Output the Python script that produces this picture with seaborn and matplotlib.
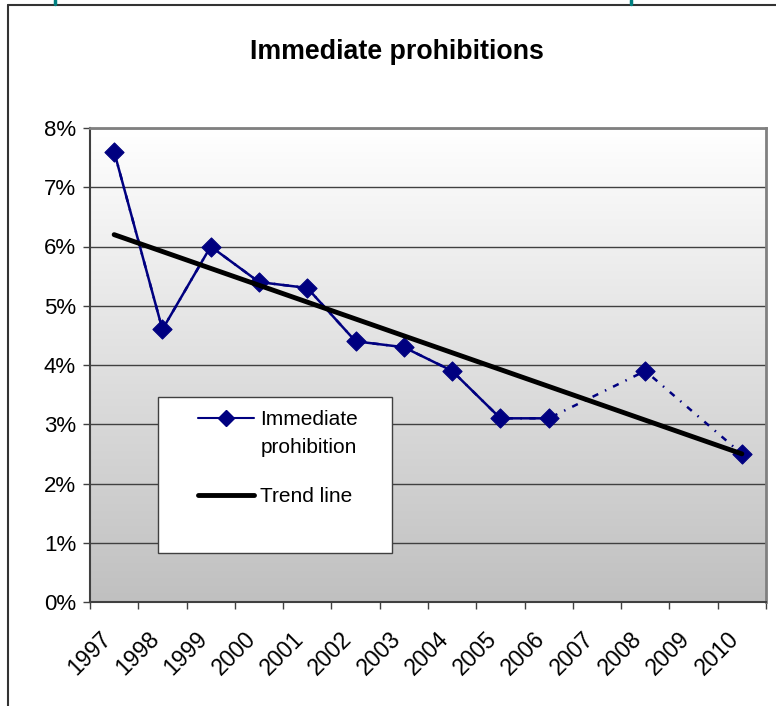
import numpy as np
import pandas as pd
import matplotlib
matplotlib.use("Agg")
import matplotlib.pyplot as plt
import matplotlib.transforms as mtransforms
from matplotlib.colors import LinearSegmentedColormap
from matplotlib.lines import Line2D
from matplotlib.patches import Rectangle
import seaborn as sns

# data (percent)
years = list(range(1997, 2011))
prohibitions = [7.6, 4.6, 6.0, 5.4, 5.3, 4.4, 4.3, 3.9, 3.1, 3.1, np.nan, 3.9, np.nan, 2.5]
trend_years = [1997, 2010]
trend_values = [6.2, 2.5]
y_ticks = [0, 1, 2, 3, 4, 5, 6, 7, 8]

NAVY = '#000080'

sns.set_theme(style="white")
plt.rcParams['font.family'] = ['Liberation Sans', 'DejaVu Sans']
plt.rcParams['text.color'] = 'black'

df = pd.DataFrame({'year': years, 'value': prohibitions})
df['pos'] = df['year'] - years[0] + 0.5
trend = pd.DataFrame({'pos': [y - years[0] + 0.5 for y in trend_years],
                      'value': trend_values})

W, H = 776, 706
fig = plt.figure(figsize=(W / 100, H / 100), dpi=100)
ax = fig.add_axes([90 / W, 1 - 602 / H, 676 / W, 474 / H])

# grey-to-white gradient in the plot area
cmap = LinearSegmentedColormap.from_list('bg', ['#c0c0c0', '#ffffff'])
ax.imshow(np.linspace(0, 1, 256).reshape(-1, 1), origin='lower', aspect='auto',
          extent=(0, len(years), 0, y_ticks[-1]), cmap=cmap, zorder=0)

# dotted line bridges the missing years, solid line where data is continuous
sns.lineplot(data=df.dropna(), x='pos', y='value', color=NAVY, lw=1.8,
             linestyle=(0, (2.5, 3, 0.6, 3)), ax=ax, zorder=3)
ax.plot(df['pos'], df['value'], color=NAVY, lw=1.8, zorder=3)
sns.scatterplot(data=df.dropna(), x='pos', y='value', marker='D', s=95,
                color=NAVY, edgecolor=NAVY, ax=ax, zorder=4)
sns.lineplot(data=trend, x='pos', y='value', color='black', lw=3.5, ax=ax, zorder=4)

ax.set_xlim(0, len(years))
ax.set_ylim(0, y_ticks[-1])
ax.set_yticks(y_ticks)
ax.set_yticklabels([f"{v}%" for v in y_ticks])
ax.set_xticks(range(len(years) + 1))
ax.set_xticklabels([str(y) for y in years] + [''])
ax.set_xlabel('')
ax.set_ylabel('')

ax.yaxis.grid(True, color='#404040', lw=1)
ax.xaxis.grid(False)
ax.set_axisbelow(True)

ax.tick_params(axis='y', which='major', left=True, length=5, width=1,
               color='#404040', labelsize=16, pad=5, labelcolor='black')
ax.tick_params(axis='x', which='major', bottom=True, length=5, width=1,
               color='#404040', labelsize=16.5, pad=13, labelcolor='black')
offset = mtransforms.ScaledTranslation(9 / 100, 0, fig.dpi_scale_trans)
for lab in ax.get_xticklabels():
    lab.set_rotation(45)
    lab.set_ha('right')
    lab.set_va('top')
    lab.set_rotation_mode('anchor')
    lab.set_transform(lab.get_transform() + offset)

for side in ['left', 'bottom']:
    ax.spines[side].set_color('#404040')
    ax.spines[side].set_linewidth(1.5)
for side in ['top', 'right']:
    ax.spines[side].set_color('#808080')
    ax.spines[side].set_linewidth(2)

# legend box
ax.add_patch(Rectangle(((158 - 90) / 676, (602 - 553) / 474), 234 / 676, 156 / 474,
                       transform=ax.transAxes, facecolor='white', edgecolor='#404040',
                       lw=1, zorder=5))
leg_kw = dict(frameon=False, borderpad=0, borderaxespad=0, handlelength=2.7,
              handletextpad=0.3, fontsize=15, labelcolor='black')
series_leg = ax.legend(
    [Line2D([], [], color=NAVY, lw=1.5, marker='D', markersize=8),
     Line2D([], [], color='none')],
    ['Immediate', 'prohibition'], loc='upper left',
    bbox_to_anchor=((198 - 90) / 676, (602 - 410) / 474), labelspacing=0.45, **leg_kw)
series_leg.set_zorder(6)
ax.add_artist(series_leg)
trend_leg = ax.legend([Line2D([], [], color='black', lw=3.5)], ['Trend line'],
                      loc='center left',
                      bbox_to_anchor=((198 - 90) / 676, (602 - 497) / 474), **leg_kw)
trend_leg.set_zorder(6)

fig.text(397 / W, 1 - 52 / H, 'Immediate prohibitions', ha='center', va='center',
         fontsize=19.3, fontweight='bold', color='black')

# outer chart border and the teal stubs at the top edge
fig.add_artist(Line2D([8 / W, 8 / W], [0, 1 - 5 / H], color='#333333', lw=1.5))
fig.add_artist(Line2D([8 / W, 1], [1 - 5 / H, 1 - 5 / H], color='#333333', lw=1.5))
for xs in [55, 631]:
    fig.add_artist(Line2D([xs / W, xs / W], [1, 1 - 4 / H], color='#008080', lw=2.5))

fig.savefig('out.png', dpi=100)
